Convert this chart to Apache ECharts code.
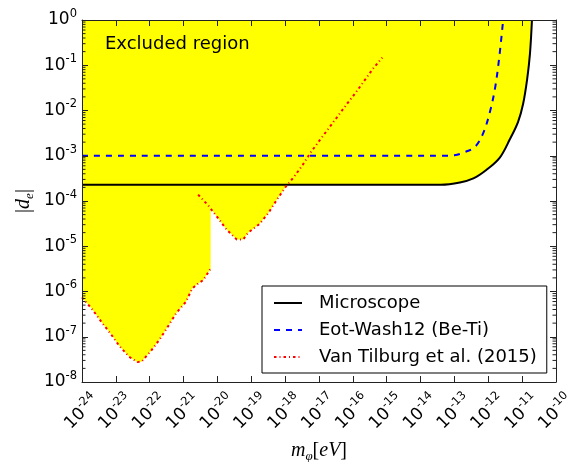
<!DOCTYPE html>
<html>
<head>
<meta charset="utf-8">
<script src="https://cdn.jsdelivr.net/npm/echarts@6/dist/echarts.min.js"></script>
<style>html,body{margin:0;padding:0;background:#fff}#c{width:572px;height:462px}</style>
</head>
<body>
<div id="c"></div>
<script>
// ---- axis ranges / ticks (decade exponents) ----
const xTickExponents = [-24,-23,-22,-21,-20,-19,-18,-17,-16,-15,-14,-13,-12,-11,-10];
const yTickExponents = [-8,-7,-6,-5,-4,-3,-2,-1,0];
const xMin = 1e-24, xMax = 1e-10, yMin = 1e-8, yMax = 1;

// ---- series data (m_phi in eV, |d_e|) ----
const microscopeMass = [1e-24, 1e-14, 3.98e-14, 1.45e-13, 3.63e-13, 8.91e-13, 2.19e-12, 4.37e-12, 7.59e-12, 1.07e-11, 1.41e-11, 1.70e-11, 1.95e-11];
const microscopeDe   = [2.29e-4, 2.29e-4, 2.29e-4, 2.57e-4, 3.16e-4, 4.90e-4, 9.12e-4, 2.34e-3, 5.62e-3, 1.41e-2, 5.01e-2, 0.178, 1];

const eotWashMass = [1e-24, 1e-14, 3.98e-14, 1e-13, 1.82e-13, 4.07e-13, 7.08e-13, 1.12e-12, 1.58e-12, 2.09e-12, 2.75e-12];
const eotWashDe   = [1e-3, 1e-3, 1e-3, 1.03e-3, 1.17e-3, 1.58e-3, 3.16e-3, 9.33e-3, 3.09e-2, 0.141, 1];

const vanTilburgMassA = [1e-24, 2.09e-24, 3.80e-24, 7.08e-24, 1.26e-23, 2.45e-23, 4.27e-23, 5.75e-23, 1.10e-22, 2.00e-22, 3.55e-22, 6.03e-22, 1.17e-21, 1.78e-21, 2.69e-21, 3.80e-21, 6.3e-21];
const vanTilburgDeA   = [7.4e-7, 3.89e-7, 2.09e-7, 1.15e-7, 6.31e-8, 3.63e-8, 2.75e-8, 2.82e-8, 4.90e-8, 8.91e-8, 1.74e-7, 3.31e-7, 5.89e-7, 1.15e-6, 1.51e-6, 1.78e-6, 3.2e-6];

const vanTilburgMassB = [2.69e-21, 5.37e-21, 1.02e-20, 1.86e-20, 3.72e-20, 5.75e-20, 8.13e-20, 1.74e-19, 3.16e-19, 5.62e-19, 1.05e-18, 1.86e-18, 3.31e-18, 5.75e-18, 1.07e-17, 1.95e-17, 3.55e-17, 6.61e-17, 1.20e-16, 2.19e-16, 3.89e-16, 7.41e-16];
const vanTilburgDeB   = [1.38e-4, 7.94e-5, 4.27e-5, 2.34e-5, 1.41e-5, 1.41e-5, 2.00e-5, 3.09e-5, 5.37e-5, 1.05e-4, 2.09e-4, 3.47e-4, 6.31e-4, 1.20e-3, 2.24e-3, 4.07e-3, 7.41e-3, 1.38e-2, 2.45e-2, 4.57e-2, 8.32e-2, 0.148];

const seriesNames = ['Microscope', 'Eot-Wash12 (Be-Ti)', 'Van Tilburg et al. (2015)'];

const FONT = 'DejaVu Sans';
const lg = Math.log10;
// the axes are value axes over decade exponents: data enter as log10 of the values
const zipLog = (a, b) => a.map((v, i) => [lg(v), lg(b[i])]);

function interpLog(ms, ds, x) {
  for (let i = 1; i < ms.length; i++) {
    if (x <= ms[i]) {
      const t = (lg(x) - lg(ms[i-1])) / (lg(ms[i]) - lg(ms[i-1]));
      return Math.pow(10, lg(ds[i-1]) + t * (lg(ds[i]) - lg(ds[i-1])));
    }
  }
  return ds[ds.length - 1];
}
const C = (api, m, d) => api.coord([lg(m), lg(d)]);

// Excluded region outline, built from the data arrays
function regionPoints(api) {
  const pts = [];
  pts.push(C(api, xMin, yMax));
  vanTilburgMassA.forEach((m, i) => pts.push(C(api, m, vanTilburgDeA[i])));
  const xe = vanTilburgMassA[vanTilburgMassA.length - 1];
  pts.push(C(api, xe, interpLog(vanTilburgMassB, vanTilburgDeB, xe)));
  const level = microscopeDe[0];
  let crossX = null;
  for (let i = 0; i < vanTilburgMassB.length; i++) {
    const m = vanTilburgMassB[i], d = vanTilburgDeB[i];
    if (m <= xe) continue;
    if (d < level) { pts.push(C(api, m, d)); continue; }
    const m0 = vanTilburgMassB[i-1], d0 = vanTilburgDeB[i-1];
    const t = (lg(level) - lg(d0)) / (lg(d) - lg(d0));
    crossX = Math.pow(10, lg(m0) + t * (lg(m) - lg(m0)));
    pts.push(C(api, crossX, level));
    break;
  }
  microscopeMass.forEach((m, i) => { if (m > crossX) pts.push(C(api, m, microscopeDe[i])); });
  return pts;
}

function expLabel(v) {
  return '{b|10}{s|' + Math.round(v) + '}';
}
const labelRich = {
  b: { fontSize: 17, fontFamily: FONT, color: '#000', lineHeight: 24, verticalAlign: 'middle' },
  s: { fontSize: 11.5, fontFamily: FONT, color: '#000', lineHeight: 12, verticalAlign: 'top' }
};

const chart = echarts.init(document.getElementById('c'), null, { renderer: 'canvas' });

const axisCommon = {
  type: 'value',
  axisLine: { show: true, onZero: false, lineStyle: { color: '#222', width: 1 } },
  axisTick: { show: true, inside: true, length: 6, lineStyle: { color: '#222', width: 1 } },
  splitLine: { show: false },
  minorTick: { show: false },
  z: 5
};
const xLo = xTickExponents[0], xHi = xTickExponents[xTickExponents.length - 1];
const yLo = yTickExponents[0], yHi = yTickExponents[yTickExponents.length - 1];

const option = {
  animation: false,
  backgroundColor: '#fff',
  grid: { left: 82, right: 16, top: 20, bottom: 80, outerBoundsMode: 'none' },
  xAxis: [
    Object.assign({}, axisCommon, {
      min: xLo, max: xHi, interval: 1, position: 'bottom',
      axisLabel: { show: true, interval: 0, rotate: 45, align: 'center', verticalAlign: 'middle', margin: 30,
        formatter: expLabel, rich: labelRich, showMinLabel: true, showMaxLabel: true, hideOverlap: false }
    }),
    Object.assign({}, axisCommon, {
      min: xLo, max: xHi, interval: 1, position: 'top',
      axisLabel: { show: false }
    })
  ],
  yAxis: [
    Object.assign({}, axisCommon, {
      min: yLo, max: yHi, interval: 1, position: 'left',
      axisLabel: { show: true, interval: 0, margin: 5, formatter: expLabel, rich: labelRich, showMinLabel: true, showMaxLabel: true }
    }),
    Object.assign({}, axisCommon, {
      min: yLo, max: yHi, interval: 1, position: 'right',
      axisLabel: { show: false }
    })
  ],
  legend: {
    data: seriesNames,
    orient: 'vertical', left: 262, top: 286,
    backgroundColor: '#fff', borderColor: '#000', borderWidth: 1, borderRadius: 0,
    padding: [7, 10, 6, 11],
    itemWidth: 28, itemHeight: 12, itemGap: 7,
    itemStyle: { opacity: 0 },
    textStyle: { fontSize: 18, fontFamily: FONT, color: '#000', lineHeight: 20, padding: [0, 0, 0, 12] },
    z: 10
  },
  graphic: [
    { type: 'text', left: 105, top: 35, z: 20, style: { text: 'Excluded region', fontSize: 18, fontFamily: FONT, fill: '#000' } },
    { type: 'text', x: 319, y: 451, z: 20, style: {
        text: '{i|m}{sub|φ}{n|[}{i|eV}{n|]}', align: 'center', verticalAlign: 'middle',
        rich: {
          i: { fontSize: 20, fontFamily: 'Liberation Serif', fontStyle: 'italic', fill: '#000', lineHeight: 24, verticalAlign: 'middle' },
          n: { fontSize: 20, fontFamily: 'Liberation Serif', fill: '#000', lineHeight: 24, verticalAlign: 'middle' },
          sub: { fontSize: 13, fontFamily: 'Liberation Serif', fontStyle: 'italic', fill: '#000', lineHeight: 14, verticalAlign: 'bottom' }
        } } },
    { type: 'text', x: 24, y: 201, rotation: Math.PI / 2, z: 20, style: {
        text: '{n||}{i|d}{sub|e}{n||}', align: 'center', verticalAlign: 'middle',
        rich: {
          i: { fontSize: 20, fontFamily: 'Liberation Serif', fontStyle: 'italic', fill: '#000', lineHeight: 24, verticalAlign: 'middle' },
          n: { fontSize: 20, fontFamily: 'Liberation Serif', fill: '#000', lineHeight: 24, verticalAlign: 'middle' },
          sub: { fontSize: 13, fontFamily: 'Liberation Serif', fontStyle: 'italic', fill: '#000', lineHeight: 14, verticalAlign: 'bottom' }
        } } }
  ],
  series: [
    {
      name: 'region', type: 'custom', coordinateSystem: 'cartesian2d', xAxisIndex: 0, yAxisIndex: 0,
      silent: true, z: 1, data: [[-20, -4]],
      renderItem: function (params, api) {
        return { type: 'polygon', shape: { points: regionPoints(api) }, style: { fill: '#ffff00', stroke: null } };
      }
    },
    {
      name: 'minorTicks', type: 'custom', coordinateSystem: 'cartesian2d', xAxisIndex: 0, yAxisIndex: 0,
      silent: true, z: 6, data: [[-20, -4]],
      renderItem: function (params, api) {
        const children = [];
        for (let e = yLo; e < yHi; e++) {
          for (let k = 2; k <= 9; k++) {
            const v = k * Math.pow(10, e);
            const pl = C(api, xMin, v);
            const pr = C(api, xMax, v);
            children.push({ type: 'line', shape: { x1: pl[0], y1: pl[1], x2: pl[0] + 3.5, y2: pl[1] }, style: { stroke: '#222', lineWidth: 1 } });
            children.push({ type: 'line', shape: { x1: pr[0] - 3.5, y1: pr[1], x2: pr[0], y2: pr[1] }, style: { stroke: '#222', lineWidth: 1 } });
          }
        }
        return { type: 'group', children: children };
      }
    },
    {
      name: seriesNames[0], type: 'line', data: zipLog(microscopeMass, microscopeDe), symbol: 'none', showSymbol: false,
      smooth: 0.35, z: 3,
      lineStyle: { color: '#000', width: 2, type: 'solid' }, itemStyle: { color: '#000' }
    },
    {
      name: seriesNames[1], type: 'line', data: zipLog(eotWashMass, eotWashDe), symbol: 'none', showSymbol: false,
      smooth: 0.35, z: 3,
      lineStyle: { color: '#0000ff', width: 2, type: [6, 6] }, itemStyle: { color: '#0000ff' }
    },
    {
      name: seriesNames[2], type: 'line', data: zipLog(vanTilburgMassA, vanTilburgDeA), symbol: 'none', showSymbol: false, z: 3,
      lineStyle: { color: '#ff0000', width: 2, type: [2.5, 3, 1, 3] }, itemStyle: { color: '#ff0000' }
    },
    {
      name: seriesNames[2], type: 'line', data: zipLog(vanTilburgMassB, vanTilburgDeB), symbol: 'none', showSymbol: false, z: 3,
      lineStyle: { color: '#ff0000', width: 2, type: [2.5, 3, 1, 3] }, itemStyle: { color: '#ff0000' }
    }
  ]
};
chart.setOption(option);
</script>
</body>
</html>
